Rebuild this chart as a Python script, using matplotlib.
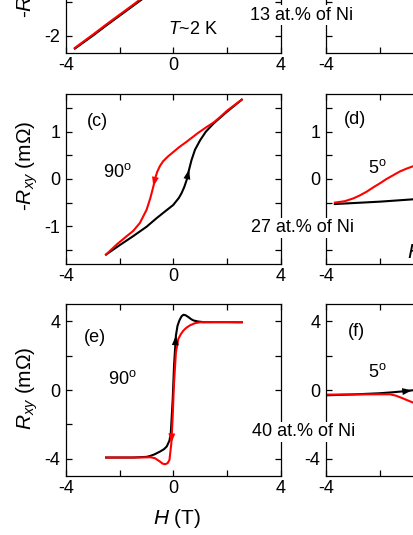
import matplotlib.pyplot as plt
import numpy as np

plt.rcParams['font.family'] = ['Liberation Sans', 'DejaVu Sans']
plt.rcParams['mathtext.fontset'] = 'custom'
plt.rcParams['mathtext.rm'] = 'Liberation Sans'
plt.rcParams['mathtext.it'] = 'Liberation Sans:italic'
plt.rcParams['font.size'] = 13

"""
data read off the picture (H in T, R in mOhm)
"""

# 13 at.% of Ni, T~2 K (top row, only the bottom is visible)
a_up_h = [-3.67, -3.0, -2.5, -2.0, -1.5, -1.0, -0.5, 0.0, 0.5, 1.0, 1.5, 2.0, 2.5, 3.0, 3.67]
a_up_r = [-2.37, -1.99, -1.69, -1.40, -1.11, -0.82, -0.48, -0.12, 0.26, 0.64, 1.00, 1.35, 1.68, 1.98, 2.36]
a_dn_h = [3.67, 3.0, 2.5, 2.0, 1.5, 1.0, 0.5, 0.0, -0.5, -1.0, -1.5, -2.0, -2.5, -3.0, -3.67]
a_dn_r = [2.36, 2.0, 1.70, 1.38, 1.04, 0.68, 0.30, -0.08, -0.45, -0.78, -1.08, -1.37, -1.66, -1.96, -2.35]

# 27 at.% of Ni, 90 deg
c_up_h = [-2.51, -2.0, -1.5, -1.0, -0.63, -0.3, -0.01, 0.2, 0.3, 0.4, 0.49, 0.58, 0.67, 0.8, 0.99, 1.2, 1.48, 1.98, 2.54]
c_up_r = [-1.6, -1.40, -1.21, -1.01, -0.83, -0.68, -0.55, -0.40, -0.30, -0.17, -0.02, 0.2, 0.40, 0.62, 0.82, 1.0, 1.17, 1.42, 1.68]
c_dn_h = [2.54, 2.0, 1.73, 1.5, 1.23, 0.9, 0.49, 0.2, -0.01, -0.2, -0.38, -0.5, -0.6, -0.68, -0.75, -0.86, -1.0, -1.25, -1.5, -1.74, -2.1, -2.51]
c_dn_r = [1.68, 1.45, 1.31, 1.2, 1.10, 0.97, 0.79, 0.67, 0.57, 0.48, 0.38, 0.28, 0.16, 0.02, -0.16, -0.40, -0.65, -0.93, -1.10, -1.21, -1.38, -1.6]

# 27 at.% of Ni, 5 deg
d_blk_h = [-3.67, -3.0, -2.0, -1.0, -0.76, -0.4]
d_blk_r = [-0.53, -0.51, -0.48, -0.44, -0.43, -0.41]
d_red_h = [-3.67, -3.3, -2.98, -2.75, -2.49, -2.25, -1.99, -1.75, -1.5, -1.25, -1.0, -0.76, -0.4]
d_red_r = [-0.5, -0.47, -0.41, -0.35, -0.27, -0.18, -0.09, 0.0, 0.08, 0.16, 0.22, 0.27, 0.32]

# 40 at.% of Ni, 90 deg
e_up_h = [-2.51, -2.0, -1.5, -1.0, -0.87, -0.7, -0.5, -0.35, -0.25, -0.15, -0.1, -0.03, 0.02, 0.09, 0.15,
          0.22, 0.3, 0.37, 0.45, 0.55, 0.65, 0.74, 0.9, 1.11, 1.5, 2.0, 2.54]
e_up_r = [-3.94, -3.94, -3.94, -3.9, -3.85, -3.75, -3.59, -3.45, -3.29, -2.95, -2.5, -0.55, 1.41, 3.18, 3.75,
          4.06, 4.3, 4.39, 4.36, 4.26, 4.14, 4.06, 4.0, 3.96, 3.96, 3.96, 3.95]
e_dn_h = [2.54, 2.0, 1.5, 0.99, 0.8, 0.61, 0.47, 0.37, 0.27, 0.18, 0.09, 0.02, -0.03, -0.08, -0.15, -0.22,
          -0.31, -0.4, -0.5, -0.69, -0.87, -1.0, -1.5, -2.0, -2.51]
e_dn_r = [3.96, 3.96, 3.96, 3.95, 3.9, 3.77, 3.62, 3.47, 3.25, 2.98, 2.2, 0.43, -1.53, -3.1, -4.08, -4.27,
          -4.33, -4.3, -4.18, -3.98, -3.92, -3.93, -3.94, -3.94, -3.94]

# 40 at.% of Ni, 5 deg
f_blk_h = [-4.0, -3.0, -2.0, -1.5, -1.0, -0.8, -0.5, 0.0]
f_blk_r = [-0.31, -0.26, -0.19, -0.13, -0.06, -0.02, 0.02, 0.1]
f_red_h = [-4.0, -3.0, -2.0, -1.62, -1.4, -1.2, -1.0, -0.75, -0.5]
f_red_r = [-0.27, -0.26, -0.25, -0.25, -0.33, -0.45, -0.58, -0.74, -0.9]

# ticks
x_ticks = [-4, -2, 0, 2, 4]
x_labels = ['-4', '', '0', '', '4']
ya_ticks = [-2, -1, 0, 1, 2]
ya_labels = ['-2', '', '0', '', '2']
yb_labels = ['', '', '', '', '']
yc_ticks = [-1.5, -1, -0.5, 0, 0.5, 1, 1.5]
yc_labels = ['', '-1', '', '0', '', '1', '']
ye_ticks = [-4, -2, 0, 2, 4]
ye_labels = ['-4', '', '0', '', '4']

"""
layout in pixels (figure is a crop of a bigger 3x2 figure)
"""
W, H = 414, 535
fig = plt.figure(figsize=(W / 100, H / 100), dpi=100)


def panel(x0, ytop, h, yticks, ylabels, ylim):
    ax = fig.add_axes([x0 / W, 1 - (ytop + h) / H, 215 / W, h / H])
    ax.set_xlim(-4, 4)
    ax.set_ylim(*ylim)
    ax.set_xticks(x_ticks)
    ax.set_xticklabels(x_labels)
    ax.set_yticks(yticks)
    ax.set_yticklabels(ylabels)
    ax.tick_params(direction='in', top=True, right=True, length=4, width=0.9, labelsize=13)
    ax.tick_params(axis='x', pad=3)
    ax.tick_params(axis='y', pad=4)
    for s in ax.spines.values():
        s.set_linewidth(0.9)
    return ax


def arrow(ax, h, r, i, color):
    ax.annotate('', xy=(h[i + 1], r[i + 1]), xytext=(h[i], r[i]),
                arrowprops=dict(arrowstyle='-|>,head_length=0.7,head_width=0.25', color=color,
                                lw=0, shrinkA=0, shrinkB=0, mutation_scale=10))


def ftext(x, y, s, **kw):
    fig.text(x / W, 1 - y / H, s, ha='center', va='center', **kw)


lw = 1.5

# top row
ax_a = panel(66, -117, 170, ya_ticks, ya_labels, (-2.5, 2.5))
ax_a.plot(a_up_h, a_up_r, color='k', lw=lw)
ax_a.plot(a_dn_h, a_dn_r, color='r', lw=lw)
ax_b = panel(326, -117, 170, ya_ticks, yb_labels, (-2.5, 2.5))

# middle row
ax_c = panel(66, 94, 170, yc_ticks, yc_labels, (-1.8, 1.8))
ax_c.plot(c_up_h, c_up_r, color='k', lw=lw)
ax_c.plot(c_dn_h, c_dn_r, color='r', lw=lw)
arrow(ax_c, c_up_h, c_up_r, 10, 'k')
arrow(ax_c, c_dn_h, c_dn_r, 13, 'r')

ax_d = panel(326, 94, 170, yc_ticks, yc_labels, (-1.8, 1.8))
ax_d.plot(d_blk_h, d_blk_r, color='k', lw=lw)
ax_d.plot(d_red_h, d_red_r, color='r', lw=lw)

# bottom row
ax_e = panel(66, 304.3, 171.4, ye_ticks, ye_labels, (-5, 5))
ax_e.plot(e_up_h, e_up_r, color='k', lw=lw)
ax_e.plot(e_dn_h, e_dn_r, color='r', lw=lw)
arrow(ax_e, e_up_h, e_up_r, 12, 'k')
arrow(ax_e, e_dn_h, e_dn_r, 12, 'r')

ax_f = panel(326, 304.3, 171.4, ye_ticks, ye_labels, (-5, 5))
ax_f.plot(f_blk_h, f_blk_r, color='k', lw=lw)
ax_f.plot(f_red_h, f_red_r, color='r', lw=lw)
arrow(ax_f, f_blk_h, f_blk_r, 4, 'k')

# labels and notes
box = dict(facecolor='white', edgecolor='none', pad=1)
ftext(193, 29, '$T$~2 K')
ftext(302, 15, '13 at.% of Ni', bbox=box)
ftext(97, 122, '(c)')
ftext(117, 172, '90$^\\mathrm{o}$')
ftext(303, 228, '27 at.% of Ni', bbox=box)
ftext(355, 120, '(d)')
ftext(377, 168, '5$^\\mathrm{o}$')
ftext(95, 338, '(e)')
ftext(122, 379, '90$^\\mathrm{o}$')
ftext(304, 432, '40 at.% of Ni', bbox=box)
ftext(356, 332, '(f)')
ftext(377, 372, '5$^\\mathrm{o}$')
ftext(177, 518, '$H$ (T)', fontsize=15)
fig.text(407 / W, 1 - 253 / H, '$H$', ha='left', va='center', fontsize=15)

ftext(27, -27, '-$R_{xy}$ (m\u03a9)', rotation=90, fontsize=15)
ftext(27, 166, '-$R_{xy}$ (m\u03a9)', rotation=90, fontsize=15)
ftext(27, 388, '$R_{xy}$ (m\u03a9)', rotation=90, fontsize=15)

fig.savefig('out.png', dpi=100)
